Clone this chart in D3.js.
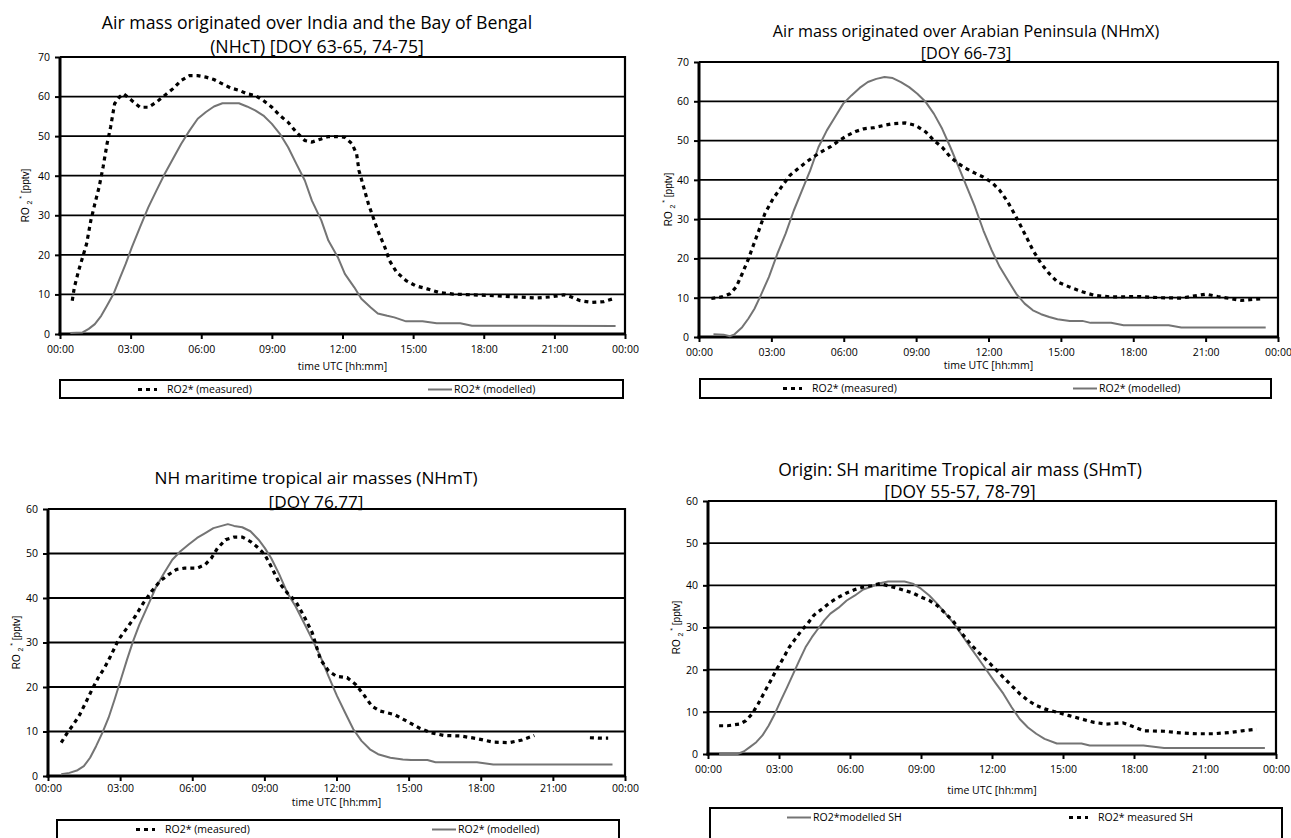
<!DOCTYPE html>
<html>
<head>
<meta charset="utf-8">
<script src="https://cdn.jsdelivr.net/npm/d3@7"></script>
<style>
  html, body { margin: 0; padding: 0; background: #fff; }
  svg { display: block; }
</style>
</head>
<body>
<svg id="chart" width="1291" height="838"></svg>
<script>
// ---- Data: RO2* mixing ratios [pptv] against time of day (hours UTC) ----

// x-axis tick labels (every 3 hours, last one wraps to midnight)
const timeTickLabels = ["00:00", "03:00", "06:00", "09:00", "12:00", "15:00", "18:00", "21:00", "00:00"];

// NHcT: air mass originated over India and the Bay of Bengal
const nhctMeasured = [
  [0.52, 8.4], [0.61, 11.8], [0.79, 16], [0.96, 19.4], [1.13, 22.8], [1.31, 28.7], [1.48, 32.9],
  [1.66, 37.1], [1.83, 42.2], [2.0, 48.1], [2.15, 52.3], [2.32, 58.2], [2.53, 59.9], [2.7, 60.7],
  [3.05, 59], [3.4, 57.3], [3.75, 57.3], [4.1, 58.6], [4.45, 60.3], [4.8, 62], [5.15, 64.1],
  [5.5, 65.3], [5.85, 65.3], [6.2, 64.9], [6.54, 64.3], [6.9, 63.2], [7.24, 62.2], [7.6, 61.6],
  [7.94, 60.7], [8.29, 60.3], [8.64, 59], [9.0, 57.3], [9.34, 55.2], [9.69, 53.5], [10.04, 51],
  [10.4, 48.9], [10.7, 48.5], [11.1, 49.3], [11.4, 49.9], [11.8, 49.9], [12.1, 49.7], [12.4, 48.1],
  [12.6, 45.5], [12.7, 41.3], [12.9, 37.1], [13.1, 32.9], [13.3, 29.5], [13.5, 26.1], [13.8, 21.9],
  [14.0, 18.5], [14.3, 15.6], [14.7, 13.5], [15.1, 12.2], [15.6, 11.4], [16.1, 10.5], [16.7, 10.1],
  [17.5, 9.9], [18.4, 9.7], [19.3, 9.4], [20.2, 9.1], [20.9, 9.4], [21.4, 9.9], [21.7, 9.4],
  [22.1, 8.4], [22.6, 8.0], [23.1, 8.2], [23.5, 8.9]
];
const nhctModelled = [
  [0.44, 0.25], [0.96, 0.4], [1.22, 1.3], [1.48, 2.5], [1.75, 4.6], [2.0, 7.2], [2.27, 10.1],
  [2.53, 13.9], [2.79, 17.7], [3.05, 21.9], [3.4, 27], [3.75, 32], [4.1, 36.3], [4.45, 40.5],
  [4.8, 44.3], [5.15, 48.1], [5.5, 51.4], [5.85, 54.4], [6.2, 56.1], [6.54, 57.5], [6.9, 58.3],
  [7.24, 58.3], [7.6, 58.3], [7.94, 57.5], [8.29, 56.5], [8.64, 55.2], [9.0, 53.1], [9.34, 50.6],
  [9.69, 47.2], [10.04, 43], [10.4, 38.8], [10.7, 33.7], [11.1, 28.7], [11.4, 23.6], [11.8, 19.4],
  [12.1, 15.2], [12.5, 11.8], [12.8, 8.9], [13.2, 6.7], [13.5, 5.2], [13.9, 4.6], [14.2, 4.2],
  [14.7, 3.2], [15.4, 3.2], [16.0, 2.7], [17.0, 2.7], [17.5, 2.1], [20.2, 2.1], [23.6, 2.0]
];

// NHmX: air mass originated over the Arabian Peninsula
const nhmxMeasured = [
  [0.51, 9.8], [0.94, 10.2], [1.28, 11.0], [1.54, 12.7], [1.79, 16.1], [2.05, 19.9], [2.25, 23.3],
  [2.48, 27.1], [2.73, 31.4], [3.07, 35.2], [3.42, 38.2], [3.76, 41.1], [4.1, 42.8], [4.44, 44.5],
  [4.78, 46], [5.12, 47.3], [5.47, 48.5], [5.81, 50], [6.15, 51.3], [6.49, 52.3], [6.83, 53],
  [7.26, 53.3], [7.69, 53.9], [8.03, 54.3], [8.54, 54.5], [8.97, 53.9], [9.4, 52.2], [9.74, 50],
  [10.08, 48.3], [10.42, 45.8], [10.76, 44.1], [11.1, 42.8], [11.44, 41.7], [11.79, 40.7],
  [12.13, 39.4], [12.47, 37.3], [12.8, 34.4], [13.15, 30.5], [13.5, 26.3], [13.84, 22.1],
  [14.18, 18.7], [14.52, 16.1], [14.86, 14], [15.37, 12.7], [15.89, 11.5], [16.4, 10.6],
  [17.08, 10.2], [18.28, 10.3], [19.13, 10.0], [19.99, 9.9], [20.67, 10.6], [21.0, 10.9],
  [21.5, 10.3], [22.0, 9.8], [22.5, 9.3], [23.4, 9.8]
];
const nhmxModelled = [
  [0.6, 0.7], [1.02, 0.6], [1.28, 0.2], [1.45, 0.6], [1.79, 2.5], [2.05, 4.7], [2.3, 7.2],
  [2.56, 10.6], [2.9, 15.3], [3.25, 21.2], [3.59, 26.3], [3.93, 32.2], [4.27, 37.3], [4.61, 42.4],
  [4.95, 48.3], [5.3, 52.6], [5.64, 56], [5.98, 59.4], [6.32, 61.5], [6.66, 63.4], [7.0, 64.9],
  [7.35, 65.7], [7.69, 66.2], [8.03, 65.9], [8.37, 64.9], [8.71, 63.6], [9.05, 61.9], [9.4, 59.8],
  [9.74, 56.8], [10.08, 53], [10.42, 48.3], [10.76, 43.3], [11.1, 38.2], [11.44, 33.1],
  [11.79, 27.1], [12.13, 22.1], [12.47, 17.8], [12.81, 14.4], [13.15, 11], [13.5, 8.5],
  [13.84, 6.8], [14.18, 5.8], [14.52, 5.1], [14.86, 4.5], [15.37, 4.1], [15.89, 4.1], [16.23, 3.6],
  [17.08, 3.6], [17.6, 3.0], [19.47, 3.0], [19.99, 2.4], [23.49, 2.4]
];

// NHmT: NH maritime tropical air masses (null marks the gap in the record)
const nhmtMeasured = [
  [0.55, 7.5], [0.8, 9.7], [1.06, 11.6], [1.32, 13.8], [1.57, 16.5], [1.83, 19.4], [2.09, 22.1],
  [2.35, 24.3], [2.6, 26.9], [2.94, 30.7], [3.29, 33.3], [3.63, 35.9], [3.97, 38.9], [4.31, 41.5],
  [4.66, 43.8], [5.0, 45.2], [5.34, 46.4], [5.68, 46.7], [6.2, 46.7], [6.54, 47.5], [6.8, 49],
  [7.05, 51.2], [7.39, 53.1], [7.74, 53.7], [8.08, 53.7], [8.42, 52.7], [8.76, 51.2], [9.02, 49.7],
  [9.28, 47.1], [9.62, 43.4], [9.96, 41.1], [10.3, 39.3], [10.65, 35.9], [10.99, 32.2],
  [11.33, 26.2], [11.67, 23.6], [12.0, 22.4], [12.44, 22.1], [12.79, 20.6], [13.13, 18.3],
  [13.47, 15.7], [13.81, 14.6], [14.41, 13.8], [14.93, 12.3], [15.44, 10.8], [15.95, 9.7],
  [16.47, 9.1], [17.15, 9.0], [17.84, 8.4], [18.52, 7.6], [19.2, 7.5], [19.72, 8.1], [20.23, 9.1],
  [21.4, null],
  [22.54, 8.6], [22.97, 8.5], [23.3, 8.5]
];
const nhmtModelled = [
  [0.55, 0.4], [0.89, 0.7], [1.23, 1.3], [1.49, 2.2], [1.75, 4.1], [2.0, 6.7], [2.26, 9.7],
  [2.52, 13.1], [2.77, 17.2], [3.03, 21.7], [3.29, 26.2], [3.54, 30.3], [3.8, 34], [4.14, 38.1],
  [4.48, 42.3], [4.83, 45.6], [5.17, 48.6], [5.51, 50.5], [5.85, 52], [6.2, 53.5], [6.54, 54.6],
  [6.88, 55.7], [7.22, 56.2], [7.48, 56.6], [7.74, 56.2], [8.08, 55.9], [8.42, 55], [8.76, 53.1],
  [9.02, 51.2], [9.28, 49], [9.62, 45.3], [9.96, 41.1], [10.3, 38.1], [10.65, 34.4], [10.99, 30.7],
  [11.33, 26.9], [11.67, 22.4], [12.02, 18], [12.36, 14.2], [12.7, 10.5], [13.04, 7.9],
  [13.39, 6], [13.73, 4.9], [14.24, 4.1], [14.76, 3.7], [15.1, 3.6], [15.78, 3.6], [16.12, 3.1],
  [17.84, 3.1], [18.52, 2.6], [23.48, 2.6]
];

// SHmT: SH maritime tropical air mass
const shmtMeasured = [
  [0.47, 6.7], [0.82, 6.7], [1.34, 7.1], [1.6, 7.9], [1.86, 9.5], [2.12, 11.9], [2.38, 14.6],
  [2.65, 17.4], [2.91, 20.2], [3.17, 22.6], [3.43, 25.3], [3.69, 27.3], [3.95, 29.3], [4.21, 30.9],
  [4.47, 32.9], [4.82, 34.4], [5.17, 36], [5.52, 37.2], [5.86, 38.2], [6.21, 39], [6.56, 39.6],
  [6.91, 39.9], [7.26, 40.4], [7.61, 39.9], [7.95, 39.4], [8.3, 38.8], [8.65, 38.2], [9.0, 37.2],
  [9.35, 36.4], [9.69, 35.2], [10.04, 33.3], [10.39, 31.3], [10.74, 28.5], [11.09, 26.1],
  [11.43, 24.1], [11.78, 22.2], [12.13, 20.2], [12.48, 18.2], [12.83, 16.2], [13.17, 14.3],
  [13.52, 12.7], [13.87, 11.5], [14.22, 10.7], [14.74, 9.9], [15.26, 9.1], [15.78, 8.3],
  [16.31, 7.5], [16.83, 7.1], [17.53, 7.4], [17.87, 6.7], [18.4, 5.5], [19.27, 5.4], [19.96, 5.0],
  [20.66, 4.8], [21.35, 4.8], [22.05, 5.1], [22.57, 5.5], [23.18, 5.9]
];
const shmtModelled = [
  [0.47, 0], [1.25, 0], [1.51, 0.6], [1.78, 1.7], [2.04, 2.8], [2.3, 4.4], [2.56, 6.7], [2.82, 9.5],
  [3.08, 12.7], [3.34, 15.8], [3.6, 19], [3.86, 22.2], [4.12, 25.3], [4.39, 27.7], [4.65, 29.7],
  [4.91, 31.7], [5.17, 33.3], [5.52, 34.7], [5.86, 36.4], [6.21, 37.6], [6.56, 39], [6.91, 39.7],
  [7.26, 40.5], [7.61, 40.9], [8.3, 40.9], [8.65, 40.4], [9.0, 39.2], [9.35, 37.6], [9.69, 35.6],
  [10.04, 33.3], [10.39, 30.9], [10.74, 28.1], [11.09, 25.3], [11.43, 22.6], [11.78, 19.8],
  [12.13, 17], [12.48, 14.3], [12.83, 11.1], [13.17, 8.3], [13.52, 6.3], [13.87, 4.8], [14.22, 3.6],
  [14.74, 2.5], [15.78, 2.5], [16.13, 2.0], [18.4, 2.0], [19.27, 1.4], [23.53, 1.4]
];

// Panel titles and legend labels
const titles = [
  ["Air mass originated over India and the Bay of Bengal", "(NHcT) [DOY 63-65, 74-75]"],
  ["Air mass originated over Arabian Peninsula (NHmX)", "[DOY 66-73]"],
  ["NH maritime tropical air masses (NHmT)", "[DOY 76,77]"],
  ["Origin: SH maritime Tropical air mass (SHmT)", "[DOY 55-57, 78-79]"]
];
const legendMeasured = ["RO2* (measured)", "RO2* (measured)", "RO2* (measured)", "RO2* measured SH"];
const legendModelled = ["RO2* (modelled)", "RO2* (modelled)", "RO2* (modelled)", "RO2*modelled SH"];
const yMax = [70, 70, 60, 60];

// ---- Layout of the four panels ----
const layout = [
  { plot: [60, 57, 625, 334], titleX: 317, titleY: [29, 53], titleSize: 17.7, yLabelX: 25,
    xPad: 7, xTitleDy: 36, legend: [60, 380, 623, 398], measuredLeg: 138, modelledLeg: 428 },
  { plot: [699, 62, 1278, 337], titleX: 966, titleY: [37, 59], titleSize: 16.2, yLabelX: 668,
    xPad: 7, xTitleDy: 32, legend: [700, 379, 1271, 398], measuredLeg: 783, modelledLeg: 1073 },
  { plot: [48, 509, 625, 776], titleX: 316, titleY: [484, 508], titleSize: 17.2, yLabelX: 16,
    xPad: 4, xTitleDy: 30, legend: [57, 820, 619, 850], measuredLeg: 136, modelledLeg: 432 },
  { plot: [708, 501, 1276, 754], titleX: 960, titleY: [476, 498], titleSize: 17.4, yLabelX: 676,
    xPad: 7, xTitleDy: 40, legend: [710, 808, 1282, 850], measuredLeg: 1069, modelledLeg: 787 }
];

const series = [
  [nhctMeasured, nhctModelled],
  [nhmxMeasured, nhmxModelled],
  [nhmtMeasured, nhmtModelled],
  [shmtMeasured, shmtModelled]
];

const svg = d3.select("#chart");
const FONT = "'Open Sans', 'Noto Sans', sans-serif";
const MODEL_GREY = "#747474";
const DASH = "4,4";

layout.forEach((L, i) => {
  const [x0, y0, x1, y1] = L.plot;
  const g = svg.append("g");
  const x = d3.scaleLinear().domain([0, 24]).range([x0, x1]);
  const y = d3.scaleLinear().domain([0, yMax[i]]).range([y1, y0]);
  const yTicks = d3.range(0, yMax[i] + 1, 10);

  // titles
  titles[i].forEach((t, k) => {
    g.append("text").attr("x", L.titleX).attr("y", L.titleY[k])
      .attr("text-anchor", "middle").attr("font-family", FONT).attr("font-size", L.titleSize)
      .attr("fill", "#000").text(t);
  });

  // horizontal gridlines
  g.append("g").selectAll("line").data(yTicks.slice(1, -1)).join("line")
    .attr("x1", x0).attr("x2", x1).attr("y1", d => y(d)).attr("y2", d => y(d))
    .attr("stroke", "#000").attr("stroke-width", 1.8);

  // plot frame: top and right
  g.append("path")
    .attr("d", `M${x0},${y0}H${x1}V${y1}`)
    .attr("fill", "none").attr("stroke", "#000").attr("stroke-width", 2.2);

  // y axis
  const yAxis = d3.axisLeft(y).tickValues(yTicks).tickSize(5).tickPadding(5);
  const ya = g.append("g").attr("transform", `translate(${x0},0)`).call(yAxis);
  ya.select(".domain").attr("stroke-width", 3).attr("d", `M0,${y1 + 1.5}V${y0}`);
  ya.selectAll(".tick line").attr("stroke-width", 2);
  ya.selectAll("text").attr("font-family", FONT).attr("font-size", 10.5).attr("fill", "#000");

  // x axis
  const xAxis = d3.axisBottom(x).tickValues(d3.range(0, 25, 3))
    .tickFormat((d, k) => timeTickLabels[k]).tickSize(5).tickPadding(L.xPad);
  const xa = g.append("g").attr("transform", `translate(0,${y1})`).call(xAxis);
  xa.select(".domain").attr("stroke-width", 3).attr("d", `M${x0 - 1.5},0H${x1}`);
  xa.selectAll(".tick line").attr("stroke-width", 2);
  xa.selectAll("text").attr("font-family", FONT).attr("font-size", 10.5).attr("fill", "#000");

  // axis titles
  g.append("text").attr("x", (x0 + x1) / 2).attr("y", y1 + L.xTitleDy)
    .attr("text-anchor", "middle").attr("font-family", FONT).attr("font-size", 10.5)
    .text("time UTC [hh:mm]");
  const yl = g.append("text")
    .attr("transform", `translate(${L.yLabelX},${(y0 + y1) / 2}) rotate(-90)`)
    .attr("text-anchor", "middle").attr("font-family", "'Liberation Sans', Arial, sans-serif")
    .attr("font-size", 10).attr("dy", "0.35em");
  yl.append("tspan").text("RO ");
  yl.append("tspan").attr("font-size", 7).attr("dy", 3).text("2");
  yl.append("tspan").attr("font-size", 7).attr("dy", -8).text(" *");
  yl.append("tspan").attr("dy", 5).text(" [pptv]");

  // data lines
  const line = d3.line().defined(d => d[1] !== null).x(d => x(d[0])).y(d => y(d[1]));
  const [meas, model] = series[i];
  g.append("path").datum(model).attr("d", line)
    .attr("fill", "none").attr("stroke", MODEL_GREY).attr("stroke-width", 2)
    .attr("stroke-linejoin", "round");
  g.append("path").datum(meas).attr("d", line)
    .attr("fill", "none").attr("stroke", "#000").attr("stroke-width", 3.2)
    .attr("stroke-dasharray", DASH);

  // legend
  const [lx0, ly0, lx1, ly1] = L.legend;
  g.append("rect").attr("x", lx0).attr("y", ly0).attr("width", lx1 - lx0).attr("height", ly1 - ly0)
    .attr("fill", "#fff").attr("stroke", "#000").attr("stroke-width", 2);
  const ly = ly0 + 9.5;
  const items = [
    { x: L.measuredLeg, label: legendMeasured[i], dashed: true },
    { x: L.modelledLeg, label: legendModelled[i], dashed: false }
  ];
  items.forEach(it => {
    g.append("line").attr("x1", it.x).attr("x2", it.x + (it.dashed ? 19 : 24))
      .attr("y1", ly).attr("y2", ly)
      .attr("stroke", it.dashed ? "#000" : MODEL_GREY)
      .attr("stroke-width", it.dashed ? 3.2 : 2)
      .attr("stroke-dasharray", it.dashed ? DASH : null);
    g.append("text").attr("x", it.x + (it.dashed ? 29 : 26)).attr("y", ly).attr("dy", "0.35em")
      .attr("font-family", FONT).attr("font-size", 10.5).text(it.label);
  });
});
</script>
</body>
</html>
